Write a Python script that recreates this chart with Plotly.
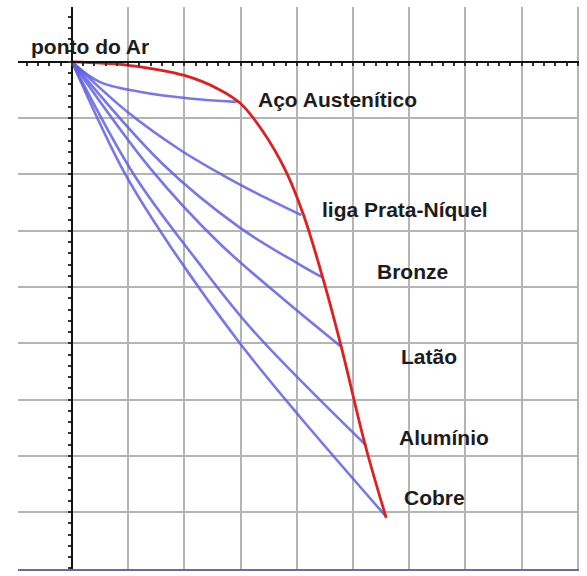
import plotly.graph_objects as go

# blue lines: air point -> each metal (grid units, origin = "ponto do Ar")
aco_x = [0, 0.5, 1.2, 2.09, 2.93]
aco_y = [0, -0.36, -0.53, -0.65, -0.71]

prata_x = [0, 1.0, 1.92, 2.68, 3.28, 4.08]
prata_y = [0, -0.90, -1.56, -2.01, -2.33, -2.72]

bronze_x = [0, 1.6, 2.98, 4.05, 4.46]
bronze_y = [0, -1.80, -2.94, -3.60, -3.83]

latao_x = [0, 1.4, 2.6, 3.78, 4.79]
latao_y = [0, -1.90, -3.20, -4.23, -5.06]

aluminio_x = [0, 1.1, 2.2, 3.21, 5.24]
aluminio_y = [0, -2.00, -3.50, -4.76, -6.82]

cobre_x = [0, 0.95, 1.8, 2.98, 4.05, 5.59]
cobre_y = [0, -2.00, -3.35, -4.99, -6.30, -8.08]

# red envelope curve
red_x = [0, 1.0, 2.0, 2.6, 3.0, 3.4, 3.8, 4.12, 4.46, 4.79, 5.22, 5.59]
red_y = [0, -0.06, -0.24, -0.48, -0.74, -1.24, -1.93, -2.72, -3.83, -5.06, -6.82, -8.10]

labels = ["ponto do Ar", "Aço Austenítico", "liga Prata-Níquel", "Bronze",
          "Latão", "Alumínio", "Cobre"]
label_x = [-0.77, 3.28, 4.42, 5.39, 5.82, 5.78, 5.87]
label_y = [0.27, -0.66, -2.63, -3.73, -5.24, -6.67, -7.74]

XR = [-0.96, 9.02]
YR = [-9.01, 0.976]

BLUE = "rgba(95,95,225,0.85)"
RED = "#dd2020"
GRID = "#b4b4b4"

fig = go.Figure()
for xs, ys in [(aco_x, aco_y), (prata_x, prata_y), (bronze_x, bronze_y),
               (latao_x, latao_y), (aluminio_x, aluminio_y), (cobre_x, cobre_y)]:
    fig.add_trace(go.Scatter(x=xs, y=ys, mode="lines", hoverinfo="skip",
                             line=dict(color=BLUE, width=2.6, shape="spline", smoothing=1.0)))
fig.add_trace(go.Scatter(x=red_x, y=red_y, mode="lines", hoverinfo="skip",
                         line=dict(color=RED, width=2.8, shape="spline", smoothing=1.0)))
# invisible trace so the overlay axes (the black cross) get drawn
fig.add_trace(go.Scatter(x=[0], y=[0], xaxis="x2", yaxis="y2", mode="markers",
                         marker=dict(size=1, opacity=0), hoverinfo="skip"))

for text, x, y in zip(labels, label_x, label_y):
    fig.add_annotation(x=x, y=y, text=f"<b>{text}</b>", showarrow=False,
                       xanchor="left", yanchor="middle",
                       font=dict(family="Liberation Sans, Arial", size=21, color="#1c1c1c"))

grid_axis = dict(showgrid=True, gridcolor=GRID, gridwidth=2, dtick=1, tick0=0,
                 zeroline=False, showticklabels=False, ticks="", fixedrange=True)
cross_axis = dict(showline=True, linecolor="#111111", linewidth=2, showgrid=False, zeroline=False,
                  showticklabels=False, ticks="outside", ticklen=3, tickwidth=1.5, tickcolor="#333",
                  dtick=1, tick0=0,
                  minor=dict(ticks="outside", ticklen=3, tickwidth=1.5, tickcolor="#333", dtick=0.2))
fig.update_layout(
    width=587, height=576, showlegend=False,
    margin=dict(l=18, r=8, t=7, b=7),
    paper_bgcolor="white", plot_bgcolor="white",
    xaxis=dict(range=XR, showline=True, linecolor="#6a6c98", linewidth=2, **grid_axis),
    yaxis=dict(range=YR, showline=False, **grid_axis),
    xaxis2=dict(overlaying="x", matches="x", anchor="free",
                position=(0 - YR[0]) / (YR[1] - YR[0]), **cross_axis),
    yaxis2=dict(overlaying="y", matches="y", anchor="free",
                position=(0 - XR[0]) / (XR[1] - XR[0]), **cross_axis),
)

fig.write_html("out.html", config={"displayModeBar": False},
               post_script="document.body.style.margin='0px';")
